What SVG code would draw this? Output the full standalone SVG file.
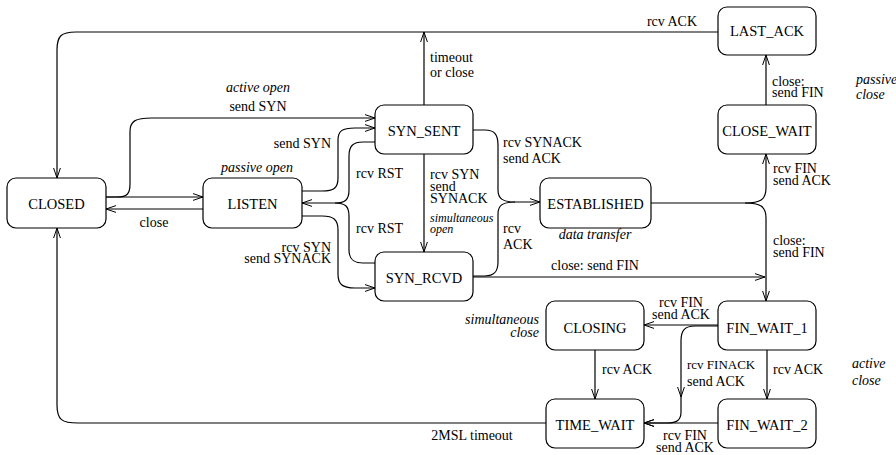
<svg xmlns="http://www.w3.org/2000/svg" width="896" height="455" viewBox="0 0 896 455">
<defs>
<style>
.n rect{fill:#fff;stroke:#000;stroke-width:1.2}
.n text{font-family:"Liberation Serif","Times New Roman",serif;font-size:14.5px;text-anchor:middle;fill:#000}
.c path{fill:none;stroke:#000;stroke-width:1.2}
.a{marker-end:url(#arr)}
.l{font-family:"Liberation Serif","Times New Roman",serif;font-size:14px;fill:#000}
.i{font-style:italic}
.s{font-size:12px}
.m{text-anchor:middle}
.e{text-anchor:end}
</style>
<marker id="arr" viewBox="0 0 10 8" refX="10" refY="4" markerWidth="10" markerHeight="8" orient="auto" markerUnits="userSpaceOnUse">
<path d="M0,0.6 L10,4 L0,7.4" fill="none" stroke="#000" stroke-width="1"/>
</marker>
</defs>
<rect width="896" height="455" fill="#fff"/>
<g id="connectors" class="c">
<path class="a" d="M718,32 H76 C61,32 57,36 57,50 V178"/>
<path class="a" d="M424,105 V32"/>
<path class="a" d="M106,197 H117 C127,197 130,194 130,184 V132 C130,121 135,118 152,118 H375"/>
<path class="a" d="M106,197 H203"/>
<path class="a" d="M203,209 H106"/>
<path class="a" d="M302,191 H322 C334,191 338,188 338,178 V140 C338,131 342,128 355,128 H375"/>
<path class="a" d="M375,142 H363 C353,142 349,146 349,156 V190 C349,200 345,203 335,203 H302"/>
<path d="M375,263 H363 C353,263 349,259 349,250 V216 C349,206 345,203 335,203"/>
<path class="a" d="M302,216 H322 C334,216 338,220 338,230 V274 C338,284 342,288 355,288 H375"/>
<path class="a" d="M424,154 V252"/>
<path class="a" d="M473,130 H485 C494,130 498,134 498,145 V190 C498,199 503,202 515,202 H540"/>
<path d="M473,276 H485 C494,276 498,272 498,262 V214 C498,205 503,202 515,202"/>
<path class="a" d="M473,277 H765"/>
<path class="a" d="M651,203 H745 C760,203 766,200 766,188 V154"/>
<path class="a" d="M745,203 C760,203 766,206 766,218 V301"/>
<path class="a" d="M766,105 V55"/>
<path class="a" d="M718,325 H644"/>
<path class="a" d="M718,326 H695 C685,326 681,330 681,341 V397"/>
<path class="a" d="M681,397 V412 C681,420 677,423 667,423 H644"/>
<path class="a" d="M595,350 V399"/>
<path class="a" d="M767,350 V399"/>
<path class="a" d="M718,423 H644"/>
<path class="a" d="M546,423 H78 C62,423 57,420 57,405 V228"/>
</g>
<g id="labels">
<text class="l m" x="672" y="26">rcv ACK</text>
<text class="l" x="430" y="62">timeout</text>
<text class="l" x="430" y="77">or close</text>
<text class="l i m" x="258" y="92">active open</text>
<text class="l m" x="258" y="111">send SYN</text>
<text class="l m" x="154" y="227">close</text>
<text class="l i m" x="257" y="172">passive open</text>
<text class="l e" x="331" y="148">send SYN</text>
<text class="l" x="356" y="178">rcv RST</text>
<text class="l" x="356" y="233">rcv RST</text>
<text class="l e" x="331" y="252">rcv SYN</text>
<text class="l e" x="331" y="263">send SYNACK</text>
<text class="l" x="430" y="179">rcv SYN</text>
<text class="l" x="430" y="191">send</text>
<text class="l" x="430" y="203">SYNACK</text>
<text class="l i s" x="430" y="222">simultaneous</text>
<text class="l i s" x="430" y="233">open</text>
<text class="l" x="503" y="147">rcv SYNACK</text>
<text class="l" x="503" y="163">send ACK</text>
<text class="l" x="503" y="233">rcv</text>
<text class="l" x="503" y="249">ACK</text>
<text class="l i m" x="595" y="239">data transfer</text>
<text class="l m" x="595" y="270">close: send FIN</text>
<text class="l" x="773" y="173">rcv FIN</text>
<text class="l" x="773" y="185">send ACK</text>
<text class="l" x="773" y="245">close:</text>
<text class="l" x="773" y="257">send FIN</text>
<text class="l" x="772" y="86">close:</text>
<text class="l" x="772" y="97">send FIN</text>
<text class="l i" x="856" y="84">passive</text>
<text class="l i" x="856" y="99">close</text>
<text class="l m" x="681" y="307">rcv FIN</text>
<text class="l m" x="681" y="319">send ACK</text>
<text class="l i e" x="539" y="324">simultaneous</text>
<text class="l i e" x="539" y="337">close</text>
<text class="l" x="602" y="374">rcv ACK</text>
<text class="l" x="687" y="369" style="font-size:13px">rcv FINACK</text>
<text class="l" x="687" y="386">send ACK</text>
<text class="l" x="773" y="374">rcv ACK</text>
<text class="l i" x="852" y="368">active</text>
<text class="l i" x="852" y="385">close</text>
<text class="l m" x="685" y="440">rcv FIN</text>
<text class="l m" x="685" y="452">send ACK</text>
<text class="l m" x="472" y="440">2MSL timeout</text>
</g>
<g id="CLOSED" class="n"><rect x="7" y="178" width="99" height="50" rx="9"/><text x="56.5" y="208.5">CLOSED</text></g>
<g id="LISTEN" class="n"><rect x="203" y="178" width="99" height="50" rx="9"/><text x="252.5" y="208.5">LISTEN</text></g>
<g id="SYN_SENT" class="n"><rect x="375" y="105" width="98" height="49" rx="9"/><text x="424" y="136">SYN_SENT</text></g>
<g id="SYN_RCVD" class="n"><rect x="375" y="252" width="98" height="49" rx="9"/><text x="424" y="282.5">SYN_RCVD</text></g>
<g id="ESTABLISHED" class="n"><rect x="540" y="178" width="111" height="50" rx="9"/><text x="595.5" y="208.5">ESTABLISHED</text></g>
<g id="LAST_ACK" class="n"><rect x="718" y="7" width="98" height="48" rx="9"/><text x="767" y="36">LAST_ACK</text></g>
<g id="CLOSE_WAIT" class="n"><rect x="718" y="105" width="98" height="49" rx="9"/><text x="767" y="135.5">CLOSE_WAIT</text></g>
<g id="FIN_WAIT_1" class="n"><rect x="718" y="301" width="98" height="49" rx="9"/><text x="767" y="332.5">FIN_WAIT_1</text></g>
<g id="CLOSING" class="n"><rect x="546" y="301" width="98" height="49" rx="9"/><text x="595" y="332.5">CLOSING</text></g>
<g id="TIME_WAIT" class="n"><rect x="546" y="399" width="98" height="49" rx="9"/><text x="595" y="430">TIME_WAIT</text></g>
<g id="FIN_WAIT_2" class="n"><rect x="718" y="399" width="98" height="49" rx="9"/><text x="767" y="430">FIN_WAIT_2</text></g>
</svg>
